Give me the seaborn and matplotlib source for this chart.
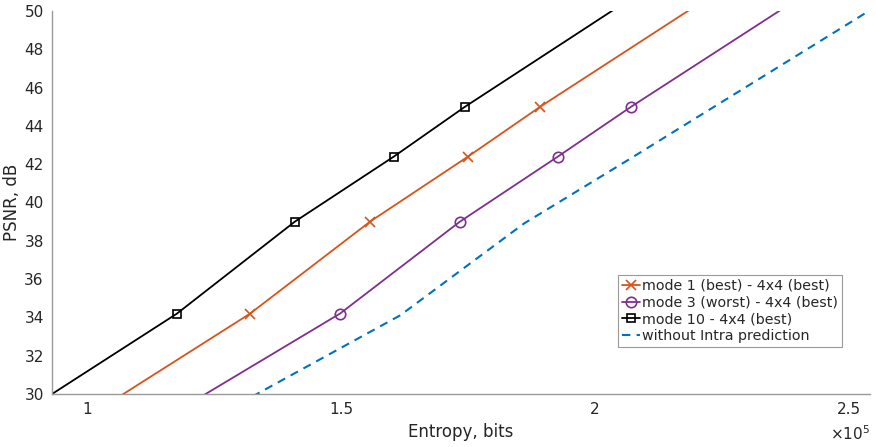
import numpy as np
import pandas as pd
import matplotlib
matplotlib.use("Agg")
import matplotlib.pyplot as plt
import seaborn as sns
from matplotlib.ticker import FuncFormatter

# Rate-distortion curves (entropy in bits, PSNR in dB)
# first and last points lie outside the visible window, the lines are clipped there
psnr_modes = [29.47, 34.2, 39.0, 42.4, 45.0, 51.16]
entropy_mode10 = [90000, 117700, 140900, 160400, 174400, 210000]
entropy_mode1 = [104000, 132100, 155700, 175000, 189200, 225000]
entropy_mode3 = [120000, 149800, 173400, 192700, 207100, 243000]

psnr_nointra = [29.5, 34.1, 38.9, 42.3, 50.1]
entropy_nointra = [130000, 161600, 186000, 207000, 254500]

labels = ["mode 1 (best) - 4x4 (best)",
          "mode 3 (worst) - 4x4 (best)",
          "mode 10 - 4x4 (best)",
          "without Intra prediction"]

sns.set_style("white")
plt.rcParams["font.family"] = ["DejaVu Sans"]

fig = plt.figure(figsize=(8.76, 4.47), dpi=100)
ax = fig.add_axes([0.0594, 0.1186, 0.9336, 0.8568])

series = [
    (entropy_mode1, psnr_modes, labels[0], "#D95319", "x", 6.5, "#D95319"),
    (entropy_mode3, psnr_modes, labels[1], "#7E2F8E", "o", 7.5, "none"),
    (entropy_mode10, psnr_modes, labels[2], "#000000", "s", 5.5, "none"),
]
for xs, ys, lab, col, mk, ms, mfc in series:
    df = pd.DataFrame({"entropy": xs, "psnr": ys})
    sns.lineplot(data=df, x="entropy", y="psnr", ax=ax, color=col, label=lab,
                 marker=mk, markevery=[1, 2, 3, 4], markersize=ms,
                 markerfacecolor=mfc, markeredgecolor=col, markeredgewidth=1.2,
                 linewidth=1.3, sort=False, estimator=None)

df = pd.DataFrame({"entropy": entropy_nointra, "psnr": psnr_nointra})
sns.lineplot(data=df, x="entropy", y="psnr", ax=ax, color="#0072BD", label=labels[3],
             linestyle=(0, (4, 3)), linewidth=1.5, sort=False, estimator=None)

ax.set_xlim(93100, 254100)
ax.set_ylim(30, 50)
ax.set_xticks([100000, 150000, 200000, 250000])
ax.set_yticks(np.arange(30, 51, 2))
ax.xaxis.set_major_formatter(FuncFormatter(lambda v, _: f"{v / 1e5:g}"))

ax.set_xlabel("Entropy, bits", fontsize=12, color="#262626", labelpad=4)
ax.set_ylabel("PSNR, dB", fontsize=12, color="#262626", labelpad=2)
ax.tick_params(direction="in", length=5, width=0.8, color="#9a9a9a",
               labelsize=11, labelcolor="#262626", pad=6)

for s in ["top", "right"]:
    ax.spines[s].set_visible(False)
for s in ["left", "bottom"]:
    ax.spines[s].set_color("#9a9a9a")
    ax.spines[s].set_linewidth(1.0)

ax.text(1.0, -0.078, r"$\times$10$^5$", transform=ax.transAxes, ha="right",
        va="top", fontsize=11, color="#262626")

leg = ax.legend(loc="lower right", bbox_to_anchor=(0.966, 0.123), fontsize=10.3,
                frameon=True, fancybox=False, framealpha=1, edgecolor="#9a9a9a",
                borderpad=0.25, labelspacing=0.2, handlelength=1.25,
                handletextpad=0.2, borderaxespad=0)
leg.get_frame().set_linewidth(0.8)

fig.savefig("out.png", dpi=100)
